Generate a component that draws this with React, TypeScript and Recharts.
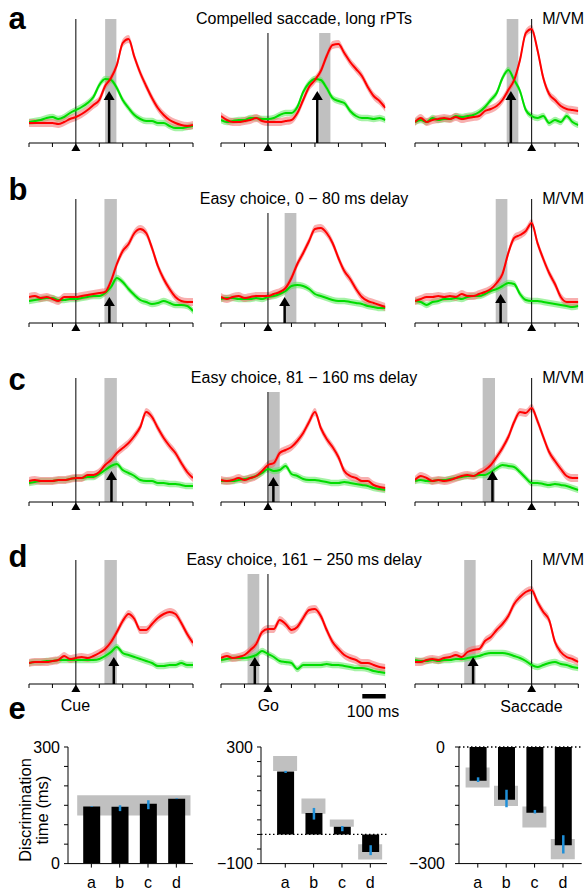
import React from 'react';
import {
  ComposedChart, Line, Area, XAxis, YAxis, ReferenceLine, ReferenceArea, ReferenceDot,
  BarChart, Bar, ErrorBar,
} from 'recharts';

// ---------- time bases (ms) ----------
const timesCue = [-200,-175,-150,-125,-100,-75,-50,-25,0,25,50,75,100,125,150,175,200,225,250,275,300,325,350,375,400,425,450,475,500];
const timesSac = [-500,-475,-450,-425,-400,-375,-350,-325,-300,-275,-250,-225,-200,-175,-150,-125,-100,-75,-50,-25,0,25,50,75,100,125,150,175,200];
const cueTicks = [-200,-100,0,100,200,300,400,500];
const sacTicks = [-500,-400,-300,-200,-100,0,100,200];

// ---------- firing rates (sp/s), red = target in RF, green = distractor in RF ----------
const aCueRed = [20,20,20,20,20,19,21,24,26,29,33,38,43,57,65,78,100,104,86,70,57,45,35,28,23,20,18,17,18];
const aCueGreen = [21,22,23,25,26,24,26,30,33,36,40,46,58,64,63,55,43,35,28,24,22,22,20,20,17,15,15,16,17];
const aGoRed = [27,23,21,21,22,23,25,22,21,21,21,22,23,30,43,56,63,72,87,98,99,90,81,74,67,56,47,42,35];
const aGoGreen = [23,21,22,23,23,25,25,24,24,25,28,30,30,36,51,60,64,63,55,45,42,40,32,27,25,25,24,25,23];
const aSacRed = [21,25,21,23,24,25,24,26,24,25,26,27,32,34,37,43,53,63,83,110,114,93,65,49,43,37,34,33,32];
const aSacGreen = [21,23,21,25,23,24,24,27,26,27,28,31,36,43,50,65,73,63,52,33,27,25,27,20,23,21,27,21,18];

const bCueRed = [26,27,25,26,24,22,26,26,26,27,28,29,30,31,42,59,72,79,90,94,90,75,57,44,34,26,22,21,21];
const bCueGreen = [22,23,24,25,25,23,23,24,24,25,26,27,27,30,36,45,41,34,28,23,21,19,20,22,20,18,18,17,12];
const bGoRed = [26,24,26,27,25,26,27,27,27,29,31,35,45,59,70,82,94,95,90,80,65,52,44,34,26,22,20,18,16];
const bGoGreen = [24,25,25,24,24,24,25,24,26,27,29,32,37,38,37,34,29,27,25,23,22,22,21,20,19,17,16,15,15];
const bSacRed = [22,24,26,26,27,26,27,26,29,27,27,29,31,34,40,49,70,85,88,92,100,80,64,50,39,26,21,21,21];
const bSacGreen = [22,21,18,21,22,24,24,25,24,26,27,27,29,32,34,37,40,39,29,23,22,22,21,20,19,18,17,16,17];

const cCueRed = [21,22,21,21,21,22,22,23,24,24,27,27,30,37,42,49,54,59,66,75,90,85,74,64,56,49,39,30,24];
const cCueGreen = [19,20,21,21,21,22,22,23,24,24,25,25,28,32,36,38,32,29,26,22,21,21,19,19,18,18,17,16,16];
const cGoRed = [22,21,22,24,22,24,26,31,37,39,49,52,55,61,69,80,90,74,63,55,45,31,26,24,21,21,17,15,14];
const cGoGreen = [21,21,21,22,23,24,26,29,33,31,32,36,28,26,23,22,22,21,20,19,19,20,19,18,17,16,14,13,12];
const cSacRed = [22,26,24,21,22,21,22,24,26,27,26,29,32,37,45,54,65,80,90,89,94,81,65,50,41,33,26,24,24];
const cSacGreen = [21,22,21,21,22,22,23,24,25,26,26,27,27,30,34,37,36,35,30,24,19,19,18,17,18,17,16,14,12];

const dCueRed = [21,22,22,22,23,24,28,25,26,27,26,28,31,35,42,52,63,70,65,54,54,60,66,70,72,70,61,50,41];
const dCueGreen = [21,22,22,23,23,24,24,24,24,24,24,24,25,28,32,37,31,29,27,25,23,21,18,18,19,19,21,19,19];
const dGoRed = [26,28,26,27,29,34,40,52,55,55,64,60,54,57,66,74,75,68,54,42,35,29,26,24,21,21,19,17,16];
const dGoGreen = [24,25,26,26,26,27,29,33,30,27,23,22,21,15,19,19,19,19,20,19,19,18,17,16,16,15,13,12,11];
const dSacRed = [22,22,24,25,24,26,27,29,27,32,34,35,43,47,54,60,68,80,87,92,94,82,72,64,42,32,27,25,22];
const dSacGreen = [24,23,23,24,23,24,24,25,25,26,27,28,30,31,31,31,30,28,26,23,19,17,19,21,22,20,19,17,16];

const SEM_RED = 4;
const SEM_GREEN = 3.2;

// discrimination times (arrows) and their ranges (gray bands) per row, per alignment
const arrowCue = [142, 143, 152, 162];
const arrowGo = [210, 71, 23, -56];
const arrowSac = [-89, -133, -168, -251];
const arrowTipCue = [52, 26, 31, 27];
const arrowTipGo = [52, 26, 25, 27];
const arrowTipSac = [52, 29, 31, 27];
const bandCue = [[125, 173], [122, 175], [122, 175], [122, 175]];
const bandGo = [[218, 266], [71, 121], [2, 50], [-87, -37]];
const bandSac = [[-107, -57], [-154, -104], [-210, -157], [-289, -240]];

const rowTitles = ['Compelled saccade, long rPTs', 'Easy choice, 0 \u2212 80 ms delay', 'Easy choice, 81 \u2212 160 ms delay', 'Easy choice, 161 \u2212 250 ms delay'];
const rowLetters = ['a', 'b', 'c', 'd'];

// ---------- panel e ----------
const conds = ['a', 'b', 'c', 'd'];
const cueDT = [147, 146, 154, 167];
const cueDTLo = [146, 135, 140, 166];
const cueDTHi = [148, 150, 163, 168];
const cueRange = [124, 176];
const goDT = [216, 74, 26, -60];
const goDTLo = [211, 51, 11, -71];
const goDTHi = [218, 91, 29, -37];
const goBoxLo = [218, 71, 26, -86];
const goBoxHi = [269, 123, 51, -34];
const sacDT = [-87, -136, -169, -253];
const sacDTLo = [-90, -155, -171, -274];
const sacDTHi = [-78, -110, -162, -227];
const sacBoxLo = [-104, -152, -207, -289];
const sacBoxHi = [-53, -100, -153, -237];
const cueYTicks = [0, 50, 100, 150, 200, 250, 300];
const goYTicks = [-100, -50, 0, 50, 100, 150, 200, 250, 300];
const sacYTicks = [-300, -250, -200, -150, -100, -50, 0];

// ---------- layout ----------
const PLOT_H = 124;
const FONT = '"Liberation Sans", Arial, Helvetica, sans-serif';
const RED = '#ff0000';
const GREEN = '#00dc00';
const GRAY = '#c0c0c0';
const BLUE = '#1f8fd8';

const rowAxisY = [143, 323, 502, 684];
const colX0 = [28.7, 221.3, 415];
const colW = [164, 164.4, 163.3];
const letterBaseline = [28.5, 199.5, 389.5, 567];

const EventMarker = (p: any) => (
  <polygon points={`${p.cx},${p.cy + 0.5} ${p.cx - 4.5},${p.cy + 8} ${p.cx + 4.5},${p.cy + 8}`} fill="#000" />
);
const ArrowHead = (p: any) => (
  <polygon points={`${p.cx},${p.cy} ${p.cx - 5.5},${p.cy + 9} ${p.cx + 5.5},${p.cy + 9}`} fill="#000" />
);
const NoLabel = () => <g />;

type PanelProps = {
  x0: number; w: number; axisY: number; times: number[]; red: number[]; green: number[];
  domain: [number, number]; ticks: number[]; lineTop: number; band: number[]; arrowT: number; arrowTip: number;
};

function TracePanel({ x0, w, axisY, times, red, green, domain, ticks, lineTop, band, arrowT, arrowTip }: PanelProps) {
  const data = times.map((t, i) => ({
    t,
    red: red[i],
    green: green[i],
    redBand: [red[i] - SEM_RED, red[i] + SEM_RED],
    greenBand: [green[i] - SEM_GREEN, green[i] + SEM_GREEN],
  }));
  const mL = 8, mR = 8, mT = 6, axH = 14;
  return (
    <div style={{ position: 'absolute', left: x0 - mL, top: axisY - PLOT_H - mT }}>
      <ComposedChart width={w + mL + mR} height={PLOT_H + mT + axH} data={data}
        margin={{ top: mT, right: mR, left: mL, bottom: 0 }}>
        <XAxis dataKey="t" type="number" domain={domain} ticks={ticks} tick={NoLabel} tickSize={4}
          height={axH} axisLine={{ stroke: '#000', strokeWidth: 1 }} tickLine={{ stroke: '#000', strokeWidth: 1 }}
          allowDataOverflow interval={0} />
        <YAxis hide type="number" domain={[0, PLOT_H]} allowDataOverflow />
        <ReferenceArea x1={band[0]} x2={band[1]} y1={0} y2={lineTop} fill={GRAY} fillOpacity={1} stroke="none" />
        <Area type="monotone" dataKey="greenBand" stroke="none" fill="#5be85b" fillOpacity={0.55}
          isAnimationActive={false} dot={false} activeDot={false} />
        <Area type="monotone" dataKey="redBand" stroke="none" fill="#f26d6d" fillOpacity={0.55}
          isAnimationActive={false} dot={false} activeDot={false} />
        <ReferenceLine segment={[{ x: 0, y: 0 }, { x: 0, y: lineTop }]} stroke="#000" strokeWidth={1} />
        <Line type="monotone" dataKey="green" stroke={GREEN} strokeWidth={2} dot={false} activeDot={false}
          isAnimationActive={false} />
        <Line type="monotone" dataKey="red" stroke={RED} strokeWidth={2} dot={false} activeDot={false}
          isAnimationActive={false} />
        <ReferenceLine segment={[{ x: arrowT, y: 0 }, { x: arrowT, y: arrowTip - 8 }]} stroke="#000" strokeWidth={2.5} />
        <ReferenceDot x={arrowT} y={arrowTip} r={0} shape={ArrowHead} />
        <ReferenceDot x={0} y={0} r={0} shape={EventMarker} />
      </ComposedChart>
    </div>
  );
}

const fmtMinus = (v: number) => (v < 0 ? '\u2212' + Math.abs(v) : String(v));

type DTProps = {
  axisX: number; top: number; plotW: number; domain: [number, number]; ticks: number[]; labelled: number[];
  values: number[]; lo: number[]; hi: number[]; boxLo?: number[]; boxHi?: number[]; range?: number[];
  padL: number; padR: number; tickMargin: number; zeroLine: boolean;
};

function DTChart({ axisX, top, plotW, domain, ticks, labelled, values, lo, hi, boxLo, boxHi, range, padL, padR, tickMargin, zeroLine }: DTProps) {
  const PLOT_E = 116.6;
  const data = conds.map((c, i) => ({
    c,
    v: values[i],
    err: [values[i] - lo[i], hi[i] - values[i]],
    box: boxLo && boxHi ? [boxLo[i], boxHi[i]] : null,
  }));
  const yW = 50, mT = 8, mR = 4, axH = 28;
  return (
    <div style={{ position: 'absolute', left: axisX - yW, top: top - mT }}>
      <BarChart width={yW + plotW + mR} height={mT + PLOT_E + axH} data={data}
        margin={{ top: mT, right: mR, left: 0, bottom: 0 }}>
        <XAxis dataKey="c" height={axH} padding={{ left: padL, right: padR }} tickSize={4} tickMargin={9}
          axisLine={{ stroke: '#000' }} tickLine={{ stroke: '#000' }} interval={0}
          tick={{ fill: '#000', fontSize: 16, fontFamily: FONT }} />
        <XAxis xAxisId="g" dataKey="c" hide padding={{ left: padL, right: padR }} />
        <YAxis width={yW} type="number" domain={domain} ticks={ticks} interval={0} tickSize={4} tickMargin={tickMargin}
          axisLine={{ stroke: '#000' }} tickLine={{ stroke: '#000' }} allowDataOverflow
          tickFormatter={(v: number) => (labelled.includes(v) ? fmtMinus(v) : '')}
          tick={{ fill: '#000', fontSize: 16, fontFamily: FONT }} />
        <YAxis yAxisId="g" hide type="number" domain={domain} allowDataOverflow />
        {range && (
          <ReferenceArea y1={range[0]} y2={range[1]} fill={GRAY} fillOpacity={1} stroke="none" />
        )}
        {boxLo && (
          <Bar xAxisId="g" yAxisId="g" dataKey="box" barSize={24} fill={GRAY} isAnimationActive={false} />
        )}
        <Bar dataKey="v" barSize={17} fill="#000" isAnimationActive={false}>
          <ErrorBar dataKey="err" width={0} stroke={BLUE} strokeWidth={2.5} direction="y" />
        </Bar>
        {zeroLine && <ReferenceLine y={0} stroke="#000" strokeWidth={1.3} strokeDasharray="1.5 2.5" />}
      </BarChart>
    </div>
  );
}

export default function App() {
  const rows = [
    { cue: [aCueRed, aCueGreen], go: [aGoRed, aGoGreen], sac: [aSacRed, aSacGreen] },
    { cue: [bCueRed, bCueGreen], go: [bGoRed, bGoGreen], sac: [bSacRed, bSacGreen] },
    { cue: [cCueRed, cCueGreen], go: [cGoRed, cGoGreen], sac: [cSacRed, cSacGreen] },
    { cue: [dCueRed, dCueGreen], go: [dGoRed, dGoGreen], sac: [dSacRed, dSacGreen] },
  ];
  return (
    <div style={{ position: 'absolute', left: 0, top: 0, width: 586, height: 893, background: '#fff', overflow: 'hidden', fontFamily: FONT }}>
      {rows.map((r, i) => (
        <React.Fragment key={i}>
          <TracePanel x0={colX0[0]} w={colW[0]} axisY={rowAxisY[i]} times={timesCue} red={r.cue[0]} green={r.cue[1]}
            domain={[-200, 500]} ticks={cueTicks} lineTop={124} band={bandCue[i]} arrowT={arrowCue[i]} arrowTip={arrowTipCue[i]} />
          <TracePanel x0={colX0[1]} w={colW[1]} axisY={rowAxisY[i]} times={timesCue} red={r.go[0]} green={r.go[1]}
            domain={[-200, 500]} ticks={cueTicks} lineTop={110} band={bandGo[i]} arrowT={arrowGo[i]} arrowTip={arrowTipGo[i]} />
          <TracePanel x0={colX0[2]} w={colW[2]} axisY={rowAxisY[i]} times={timesSac} red={r.sac[0]} green={r.sac[1]}
            domain={[-500, 200]} ticks={sacTicks} lineTop={124} band={bandSac[i]} arrowT={arrowSac[i]} arrowTip={arrowTipSac[i]} />
        </React.Fragment>
      ))}

      <DTChart axisX={68.3} top={746.7} plotW={125} domain={[0, 300]} ticks={cueYTicks} labelled={[0, 300]}
        values={cueDT} lo={cueDTLo} hi={cueDTHi} range={cueRange} padL={9.2} padR={2.5} tickMargin={4} zeroLine={false} />
      <DTChart axisX={260.7} top={746.7} plotW={126} domain={[-100, 300]} ticks={goYTicks} labelled={[-100, 300]}
        values={goDT} lo={goDTLo} hi={goDTHi} boxLo={goBoxLo} boxHi={goBoxHi} padL={10.1} padR={2.5} tickMargin={4} zeroLine={true} />
      <DTChart axisX={459} top={747.3} plotW={122.7} domain={[-300, 0]} ticks={sacYTicks} labelled={[-300, 0]}
        values={sacDT} lo={sacDTLo} hi={sacDTHi} boxLo={sacBoxLo} boxHi={sacBoxHi} padL={4.6} padR={4.5} tickMargin={10} zeroLine={true} />

      <svg width={586} height={893} style={{ position: 'absolute', left: 0, top: 0, pointerEvents: 'none' }}
        fontFamily={FONT}>
        {rowLetters.map((l, i) => (
          <text key={'l' + i} x={8.5} y={letterBaseline[i]} fontSize={31} fontWeight="bold" fill="#000">{l}</text>
        ))}
        <text x={8.5} y={719} fontSize={31} fontWeight="bold" fill="#000">e</text>
        {rowTitles.map((t, i) => (
          <text key={'t' + i} x={304} y={rowAxisY[i] - 143 + 23.5} fontSize={16} textAnchor="middle" fill="#000">{t}</text>
        ))}
        {rowAxisY.map((y, i) => (
          <text key={'m' + i} x={584} y={y - 143 + 23.5} fontSize={16} textAnchor="end" fill="#000">M/VM</text>
        ))}
        <text x={75.5} y={711} fontSize={16} textAnchor="middle" fill="#000">Cue</text>
        <text x={268.3} y={711} fontSize={16} textAnchor="middle" fill="#000">Go</text>
        <text x={531.5} y={712} fontSize={16} textAnchor="middle" fill="#000">Saccade</text>
        <rect x={362.3} y={694} width={23.4} height={4.5} fill="#000" />
        <text x={373} y={717} fontSize={16} textAnchor="middle" fill="#000">100 ms</text>
        <g transform="translate(31, 810) rotate(-90)">
          <text x={0} y={0} fontSize={16.5} textAnchor="middle" fill="#000">Discrimination</text>
          <text x={0} y={16.5} fontSize={16.5} textAnchor="middle" fill="#000">time (ms)</text>
        </g>
      </svg>
    </div>
  );
}
